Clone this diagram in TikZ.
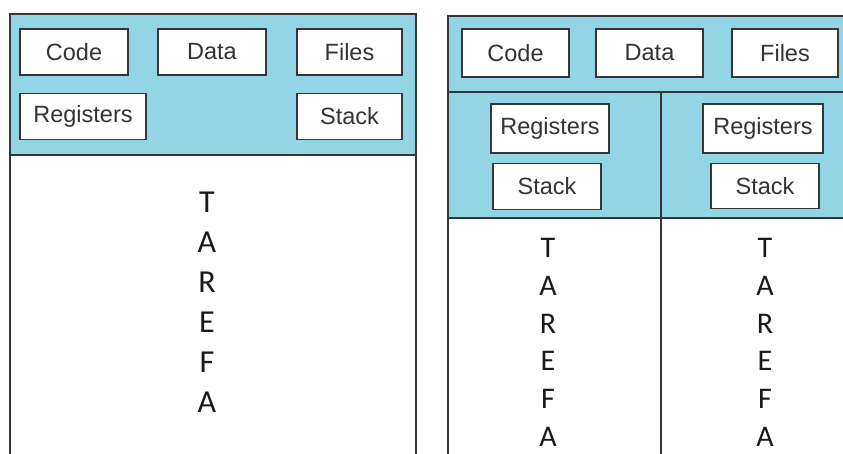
\documentclass[tikz,border=0pt]{standalone}
\usepackage{fontspec}
\setmainfont{Liberation Sans}
\newfontfamily\tarefafont{Carlito}
\usetikzlibrary{positioning}
\definecolor{procblue}{RGB}{147,212,229}
\definecolor{linegray}{RGB}{50,55,55}

\begin{document}
\begin{tikzpicture}[
    x=1pt, y=-1pt,
    every node/.style={font=\fontsize{23.5}{27}\selectfont}, % box labels
    item/.style={
        rectangle,
        draw=linegray,
        line width=1.4pt,
        fill=white,
        inner sep=0pt,
        minimum height=46pt,
        text=black!80
    },
    tarefa/.style={
        align=center,
        inner sep=0pt,
        anchor=north,
        text=black!90
    },
    wall/.style={draw=linegray, line width=1.5pt}
]
\useasboundingbox (0,0) rectangle (843,454);

% Single-threaded process
\fill[procblue] (10,14) rectangle (416,155);
\draw[wall] (10,454) -- (10,14) -- (416,14) -- (416,454);
\draw[wall] (10,155) -- (416,155);

\node[item, minimum width=108pt] (codeA) at (74,52) {Code};
\node[item, minimum width=108pt] (dataA) at (212,52) {Data};
\node[item, minimum width=105pt] (filesA) at (349.5,52) {Files};
\node[item, minimum width=126pt, below=17pt of codeA.south west, anchor=north west] (regA) {Registers};
\node[item, minimum width=105pt, below=17pt of filesA] (stackA) {Stack};

\node[tarefa, font=\tarefafont\fontsize{32}{40}\selectfont] (taskA) at (207,192) {T\\A\\R\\E\\F\\A};

% Multithreaded process
\fill[procblue] (448,16) rectangle (843,218);
\draw[wall] (448,454) -- (448,16) -- (843,16);
\draw[wall] (448,92) -- (843,92);
\draw[wall] (448,218) -- (843,218);
\draw[wall] (661,92) -- (661,454);

\node[item, minimum width=107pt, minimum height=48pt] (codeB) at (515.5,53) {Code};
\node[item, minimum width=107pt, minimum height=48pt] (dataB) at (649.5,53) {Data};
\node[item, minimum width=106pt, minimum height=48pt] (filesB) at (785,53) {Files};

\node[item, minimum width=118pt, minimum height=49pt] (regB) at (550,128.5) {Registers};
\node[item, minimum width=108pt, below=9pt of regB, xshift=-3pt] (stackB) {Stack};
\node[item, minimum width=120pt, minimum height=49pt] (regC) at (763,128.5) {Registers};
\node[item, minimum width=108pt, minimum height=45pt, below=9pt of regC, xshift=2pt] (stackC) {Stack};

\node[tarefa, font=\tarefafont\fontsize{30}{37.8}\selectfont] (taskB) at (548,238) {T\\A\\R\\E\\F\\A};
\node[tarefa, font=\tarefafont\fontsize{30}{37.8}\selectfont] (taskC) at (765,238) {T\\A\\R\\E\\F\\A};

\end{tikzpicture}
\end{document}
